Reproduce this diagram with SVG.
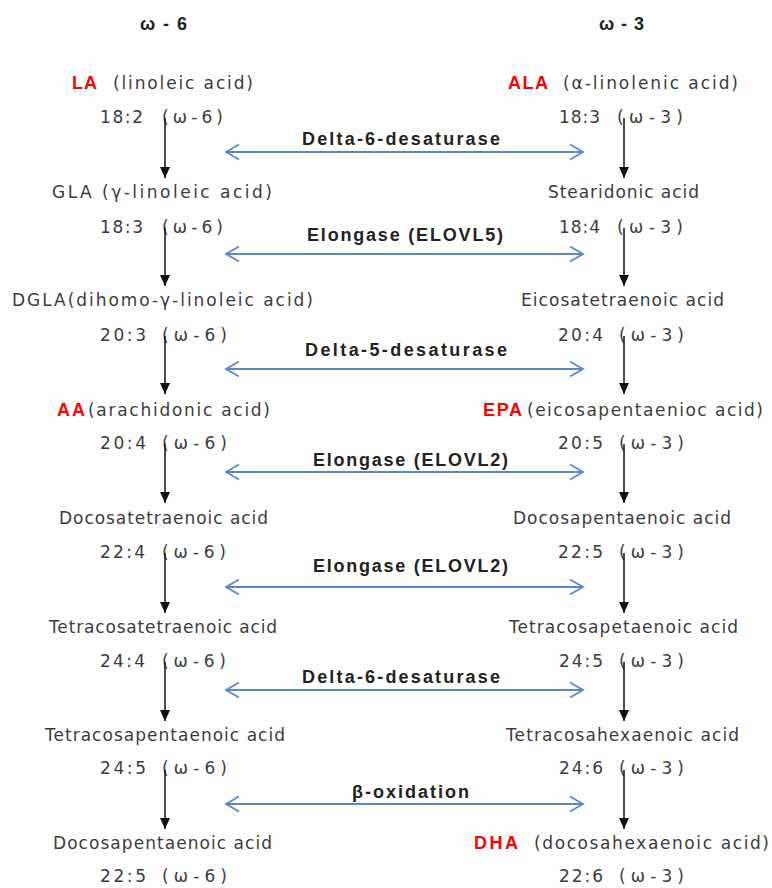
<svg xmlns="http://www.w3.org/2000/svg" width="772" height="888" viewBox="0 0 772 888">
<style>
.t{font-family:"DejaVu Sans","Noto Sans CJK KR",sans-serif;font-size:17px;fill:#3c3c3c}
.r{font-family:"Liberation Sans",sans-serif;font-size:18px;font-weight:bold;fill:#ff0000}
.b{font-family:"Liberation Sans",sans-serif;font-size:18px;font-weight:bold;fill:#222}
.h{font-family:"Liberation Sans",sans-serif;font-size:18px;font-weight:bold;fill:#222}
.v{stroke:#111;stroke-width:1.5;fill:none;marker-end:url(#tri)}
.e{stroke:#5a88c6;stroke-width:1.8;fill:none;marker-start:url(#chev);marker-end:url(#chev)}
</style>
<defs>
<marker id="tri" markerUnits="userSpaceOnUse" markerWidth="12" markerHeight="10" refX="11" refY="5" orient="auto" viewBox="0 0 12 10">
<path d="M0,0 L11,5 L0,10 Z" fill="#111"/>
</marker>
<marker id="chev" markerUnits="userSpaceOnUse" markerWidth="16" markerHeight="18" refX="14" refY="9" orient="auto-start-reverse" viewBox="0 0 16 18">
<path d="M1,1.5 L14,9 L1,16.5" fill="none" stroke="#5a88c6" stroke-width="1.8"/>
</marker>
</defs>
<g id="headers">
<text class="h" x="140" y="30" textLength="47">ω-6</text>
<text class="h" x="599" y="30" textLength="45">ω-3</text>
</g>
<g id="n6-1"><text class="r" x="72" y="89" textLength="25">LA</text><text class="t" x="113" y="89" textLength="140">(linoleic acid)</text><text class="t" x="100" y="123" textLength="43">18:2</text><text class="t" x="162" y="123" textLength="61">(ω-6)</text></g>
<g id="n6-2"><text class="t" x="52" y="198" textLength="220">GLA (γ-linoleic acid)</text><text class="t" x="100" y="233" textLength="43">18:3</text><text class="t" x="162" y="233" textLength="61">(ω-6)</text></g>
<g id="n6-3"><text class="t" x="12" y="306" textLength="301">DGLA(dihomo-γ-linoleic acid)</text><text class="t" x="100" y="341" textLength="46">20:3</text><text class="t" x="162" y="341" textLength="65">(ω-6)</text></g>
<g id="n6-4"><text class="r" x="57" y="416" textLength="28">AA</text><text class="t" x="88" y="416" textLength="182">(arachidonic acid)</text><text class="t" x="100" y="449" textLength="46">20:4</text><text class="t" x="162" y="449" textLength="65">(ω-6)</text></g>
<g id="n6-5"><text class="t" x="59" y="524" textLength="209">Docosatetraenoic acid</text><text class="t" x="100" y="558" textLength="45">22:4</text><text class="t" x="162" y="558" textLength="64">(ω-6)</text></g>
<g id="n6-6"><text class="t" x="49" y="633" textLength="228">Tetracosatetraenoic acid</text><text class="t" x="100" y="667" textLength="45">24:4</text><text class="t" x="162" y="667" textLength="64">(ω-6)</text></g>
<g id="n6-7"><text class="t" x="45" y="741" textLength="240">Tetracosapentaenoic acid</text><text class="t" x="100" y="774" textLength="46">24:5</text><text class="t" x="162" y="774" textLength="65">(ω-6)</text></g>
<g id="n6-8"><text class="t" x="53" y="849" textLength="219">Docosapentaenoic acid</text><text class="t" x="100" y="882" textLength="46">22:5</text><text class="t" x="162" y="882" textLength="65">(ω-6)</text></g>
<g id="n3-1"><text class="r" x="508" y="89" textLength="40">ALA</text><text class="t" x="563" y="89" textLength="175">(α-linolenic acid)</text><text class="t" x="559" y="123" textLength="41">18:3</text><text class="t" x="617" y="123" textLength="66">(ω-3)</text></g>
<g id="n3-2"><text class="t" x="548" y="198" textLength="151">Stearidonic acid</text><text class="t" x="559" y="233" textLength="41">18:4</text><text class="t" x="617" y="233" textLength="66">(ω-3)</text></g>
<g id="n3-3"><text class="t" x="521" y="306" textLength="203">Eicosatetraenoic acid</text><text class="t" x="558" y="341" textLength="45">20:4</text><text class="t" x="619" y="341" textLength="65">(ω-3)</text></g>
<g id="n3-4"><text class="r" x="483" y="416" textLength="39">EPA</text><text class="t" x="527" y="416" textLength="236">(eicosapentaenioc acid)</text><text class="t" x="558" y="449" textLength="45">20:5</text><text class="t" x="619" y="449" textLength="65">(ω-3)</text></g>
<g id="n3-5"><text class="t" x="513" y="524" textLength="218">Docosapentaenoic acid</text><text class="t" x="558" y="558" textLength="45">22:5</text><text class="t" x="619" y="558" textLength="65">(ω-3)</text></g>
<g id="n3-6"><text class="t" x="509" y="633" textLength="229">Tetracosapetaenoic acid</text><text class="t" x="559" y="667" textLength="44">24:5</text><text class="t" x="619" y="667" textLength="65">(ω-3)</text></g>
<g id="n3-7"><text class="t" x="506" y="741" textLength="233">Tetracosahexaenoic acid</text><text class="t" x="559" y="774" textLength="44">24:6</text><text class="t" x="619" y="774" textLength="65">(ω-3)</text></g>
<g id="n3-8"><text class="r" x="474" y="849" textLength="44">DHA</text><text class="t" x="534" y="849" textLength="235">(docosahexaenoic acid)</text><text class="t" x="559" y="882" textLength="44">22:6</text><text class="t" x="619" y="882" textLength="65">(ω-3)</text></g>
<g id="enzymes">
<text class="b" x="302" y="145" textLength="198">Delta-6-desaturase</text>
<text class="b" x="307" y="241" textLength="196">Elongase (ELOVL5)</text>
<text class="b" x="305" y="356" textLength="202">Delta-5-desaturase</text>
<text class="b" x="313" y="466" textLength="195">Elongase (ELOVL2)</text>
<text class="b" x="313" y="572" textLength="195">Elongase (ELOVL2)</text>
<text class="b" x="302" y="683" textLength="198">Delta-6-desaturase</text>
<text class="b" x="352" y="798" textLength="117">β-oxidation</text>
</g>
<g id="connectors">
<path class="v" d="M165,118 V178"/>
<path class="v" d="M165,228 V286"/>
<path class="v" d="M165,336 V394"/>
<path class="v" d="M165,444 V503"/>
<path class="v" d="M165,553 V613"/>
<path class="v" d="M165,662 V721"/>
<path class="v" d="M165,770 V829"/>
<path class="v" d="M624,118 V178"/>
<path class="v" d="M624,228 V286"/>
<path class="v" d="M624,336 V394"/>
<path class="v" d="M624,444 V503"/>
<path class="v" d="M624,553 V613"/>
<path class="v" d="M624,662 V721"/>
<path class="v" d="M624,770 V829"/>
<path class="e" d="M226,152 H583"/>
<path class="e" d="M226,254 H583"/>
<path class="e" d="M226,369 H583"/>
<path class="e" d="M226,472 H583"/>
<path class="e" d="M226,587 H583"/>
<path class="e" d="M226,690 H583"/>
<path class="e" d="M226,804 H583"/>
</g>
</svg>
